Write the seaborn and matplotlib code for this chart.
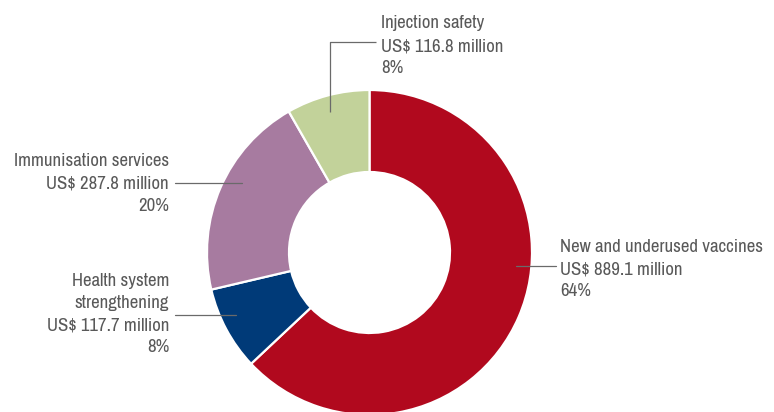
import matplotlib
matplotlib.use("Agg")
import matplotlib.pyplot as plt
from matplotlib import font_manager as fm
import seaborn as sns

# ---- data ----
categories = ["New and underused vaccines", "Health system strengthening",
              "Immunisation services", "Injection safety"]
values = [889.1, 117.7, 287.8, 116.8]
value_labels = ["US$ 889.1 million", "US$ 117.7 million",
                "US$ 287.8 million", "US$ 116.8 million"]
pct_labels = ["64%", "8%", "20%", "8%"]
colors = ["#B1091E", "#003A78", "#A77BA0", "#C2D29A"]

sns.set_theme(style="white")
plt.rcParams['font.family'] = ['DejaVu Sans']

# find a condensed / narrow regular sans font if one is installed
cands = []
for f in fm.fontManager.ttflist:
    fn = f.fname.lower()
    if ('narrow' in fn or 'condensed' in fn) and 'bold' not in fn and 'oblique' not in fn \
            and 'italic' not in fn and 'serif' not in fn and 'mono' not in fn \
            and 'light' not in fn and 'semibold' not in fn and 'extra' not in fn:
        cands.append(f.fname)
pref = ['narrow', 'dejavusanscondensed', 'condensed']
chosen = None
for p in pref:
    for c in cands:
        if p in c.lower().replace('-', '').replace('_', ''):
            chosen = c
            break
    if chosen:
        break

W, H = 774, 412
fig = plt.figure(figsize=(W / 100, H / 100), dpi=100)
ax = fig.add_axes([0, 0, 1, 1])

def Y(py):
    return H - py

cx, cy, R = 369.5, 252.5, 162.5
ax.pie(values, colors=colors, startangle=90, counterclock=False,
       center=(cx, Y(cy)), radius=R,
       wedgeprops=dict(width=R - 80.5, edgecolor="white", linewidth=1.6))

ax.set_xlim(0, W)
ax.set_ylim(0, H)
ax.set_aspect('equal')
ax.axis('off')

if chosen:
    fp = fm.FontProperties(fname=chosen)
else:
    fp = fm.FontProperties(family='DejaVu Sans', stretch='condensed')

# fit size so the longest label spans ~205 px like the reference
renderer = fig.canvas.get_renderer()
probe = ax.text(0, 0, categories[0], fontproperties=fp, fontsize=10)
w10 = probe.get_window_extent(renderer).width
probe.remove()
fs = min(13.5, 10 * 205 / w10)

tc = "#595959"
lc = "#6a6a6a"

def lines(x, baselines, texts, ha):
    for b, t in zip(baselines, texts):
        ax.text(x, Y(b), t, ha=ha, va='baseline', fontsize=fs, color=tc,
                fontproperties=fp)

# Injection safety
lines(381, [28, 51, 73], [categories[3], value_labels[3], pct_labels[3]], 'left')
ax.plot([376, 330, 330], [Y(42), Y(42), Y(112)], color=lc, lw=0.9, solid_capstyle='butt')

# Immunisation services
lines(169, [166, 188, 211], [categories[2], value_labels[2], pct_labels[2]], 'right')
ax.plot([175, 242], [Y(183), Y(183)], color=lc, lw=0.9)

# Health system strengthening
lines(169, [286, 308, 330, 352], ["Health system", "strengthening", value_labels[1], pct_labels[1]], 'right')
ax.plot([175, 236], [Y(315), Y(315)], color=lc, lw=0.9)

# New and underused vaccines
lines(560, [252, 274, 296], [categories[0], value_labels[0], pct_labels[0]], 'left')
ax.plot([516, 556], [Y(266), Y(266)], color=lc, lw=0.9)

fig.savefig("out.png", dpi=100)
